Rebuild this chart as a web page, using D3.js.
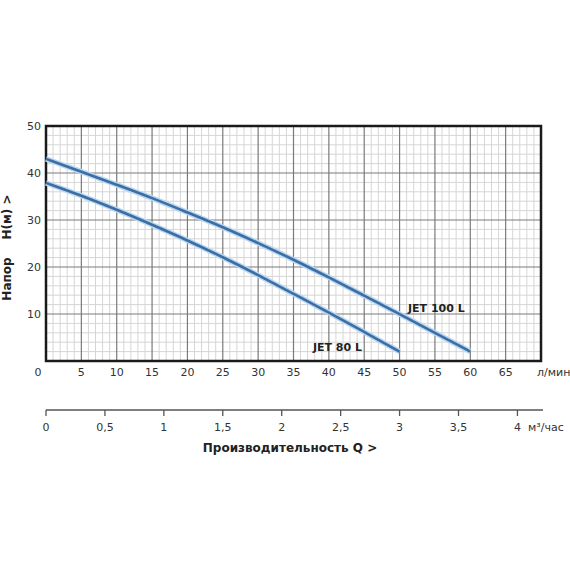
<!DOCTYPE html>
<html>
<head>
<meta charset="utf-8">
<script src="https://cdn.jsdelivr.net/npm/d3@7"></script>
<style>
  body { margin: 0; background: #fff; }
  svg { display: block; font-family: "DejaVu Sans", Verdana, sans-serif; }
</style>
</head>
<body>
<svg id="chart" width="570" height="570"></svg>
<script>
// flow in l/min and head in m
const flowLmin = [0, 5, 10, 15, 20, 25, 30, 35, 40, 45, 50, 55, 60];
const jet100Head = [43.0, 40.3, 37.5, 34.7, 31.6, 28.5, 25.1, 21.6, 17.8, 13.9, 10.0, 6.0, 2.0];
const jet80Head = [37.9, 35.2, 32.2, 29.0, 25.7, 22.1, 18.3, 14.3, 10.3, 6.2, 2.0];

const xTicks = [0, 5, 10, 15, 20, 25, 30, 35, 40, 45, 50, 55, 60, 65];
const yTicks = [10, 20, 30, 40, 50];
const m3Ticks = [0, 0.5, 1, 1.5, 2, 2.5, 3, 3.5, 4];

const series = [
  {name: 'JET 100 L', head: jet100Head},
  {name: 'JET 80 L', head: jet80Head}
];

const svg = d3.select('#chart');
const plotL = 46, plotR = 541, plotT = 126, plotB = 361;

const x = d3.scaleLinear().domain([0, 70]).range([plotL, plotR]);
const y = d3.scaleLinear().domain([0, 50]).range([plotB, plotT]);
// 1 m3/h = 1000/60 l/min
const xq = d3.scaleLinear().domain([0, 4]).range([x(0), x(4000 / 60)]);

const grid = svg.append('g');

// minor grid
grid.selectAll('line.mx')
  .data(d3.range(1, 70).filter(d => d % 5 !== 0))
  .join('line')
  .attr('x1', d => x(d)).attr('x2', d => x(d))
  .attr('y1', plotT).attr('y2', plotB)
  .attr('stroke', '#d6d6d6').attr('stroke-width', 1);

grid.selectAll('line.my')
  .data(d3.range(2, 50, 2).filter(d => d % 10 !== 0))
  .join('line')
  .attr('x1', plotL).attr('x2', plotR)
  .attr('y1', d => y(d)).attr('y2', d => y(d))
  .attr('stroke', '#d6d6d6').attr('stroke-width', 1);

// major grid
grid.selectAll('line.Mx')
  .data(xTicks.slice(1))
  .join('line')
  .attr('x1', d => x(d)).attr('x2', d => x(d))
  .attr('y1', plotT).attr('y2', plotB)
  .attr('stroke', '#7a7a7a').attr('stroke-width', 1.2);

grid.selectAll('line.My')
  .data(yTicks.slice(0, -1))
  .join('line')
  .attr('x1', plotL).attr('x2', plotR)
  .attr('y1', d => y(d)).attr('y2', d => y(d))
  .attr('stroke', '#7a7a7a').attr('stroke-width', 1.2);

// frame
svg.append('rect')
  .attr('x', plotL).attr('y', plotT)
  .attr('width', plotR - plotL).attr('height', plotB - plotT)
  .attr('fill', 'none').attr('stroke', '#1a1a1a').attr('stroke-width', 2.5);

// curves
const line = d3.line()
  .x((d, i) => x(flowLmin[i]))
  .y(d => y(d))
  .curve(d3.curveBasis);

const curves = svg.append('g');
series.forEach(s => {
  curves.append('path')
    .attr('d', line(s.head))
    .attr('fill', 'none')
    .attr('stroke', '#b9d7f2')
    .attr('stroke-width', 5.5);
  curves.append('path')
    .attr('d', line(s.head))
    .attr('fill', 'none')
    .attr('stroke', '#3c6ea4')
    .attr('stroke-width', 2.6);
});

// curve labels
svg.append('text')
  .attr('x', 408).attr('y', 312)
  .attr('font-size', 11).attr('font-weight', 'bold').attr('fill', '#222')
  .text('JET 100 L');
svg.append('text')
  .attr('x', 362).attr('y', 351)
  .attr('text-anchor', 'end')
  .attr('font-size', 11).attr('font-weight', 'bold').attr('fill', '#222')
  .text('JET 80 L');

// y tick labels
svg.append('g').selectAll('text')
  .data(yTicks)
  .join('text')
  .attr('x', 41).attr('y', d => y(d) + 4)
  .attr('text-anchor', 'end')
  .attr('font-size', 11).attr('fill', '#333')
  .text(d => d);

// x tick labels (l/min)
svg.append('g').selectAll('text')
  .data(xTicks)
  .join('text')
  .attr('x', d => d === 0 ? 38 : x(d))
  .attr('y', 376)
  .attr('text-anchor', 'middle')
  .attr('font-size', 11).attr('fill', '#333')
  .text(d => d);

svg.append('text')
  .attr('x', 537).attr('y', 376)
  .attr('font-size', 11).attr('fill', '#333')
  .text('л/мин');

// second axis (m3/h)
const qAxis = svg.append('g');
qAxis.append('line')
  .attr('x1', xq(0)).attr('x2', 543)
  .attr('y1', 410).attr('y2', 410)
  .attr('stroke', '#555').attr('stroke-width', 1.3);

qAxis.selectAll('line.t')
  .data(m3Ticks)
  .join('line')
  .attr('x1', d => xq(d)).attr('x2', d => xq(d))
  .attr('y1', 410).attr('y2', 416)
  .attr('stroke', '#555').attr('stroke-width', 1.3);

qAxis.selectAll('text')
  .data(m3Ticks)
  .join('text')
  .attr('x', d => xq(d)).attr('y', 431)
  .attr('text-anchor', 'middle')
  .attr('font-size', 11).attr('fill', '#333')
  .text(d => String(d).replace('.', ','));

svg.append('text')
  .attr('x', 528).attr('y', 431)
  .attr('font-size', 11).attr('fill', '#333')
  .text('м³/час');

svg.append('text')
  .attr('x', 290).attr('y', 452)
  .attr('text-anchor', 'middle')
  .attr('font-size', 12).attr('font-weight', 'bold').attr('fill', '#222')
  .text('Производительность Q  >');

// y axis title
svg.append('text')
  .attr('transform', 'translate(11,279) rotate(-90)')
  .attr('text-anchor', 'middle')
  .attr('font-size', 12).attr('font-weight', 'bold').attr('fill', '#222')
  .text('Напор');
svg.append('text')
  .attr('transform', 'translate(11,217) rotate(-90)')
  .attr('text-anchor', 'middle')
  .attr('font-size', 12).attr('font-weight', 'bold').attr('fill', '#222')
  .text('H(м)  >');
</script>
</body>
</html>
